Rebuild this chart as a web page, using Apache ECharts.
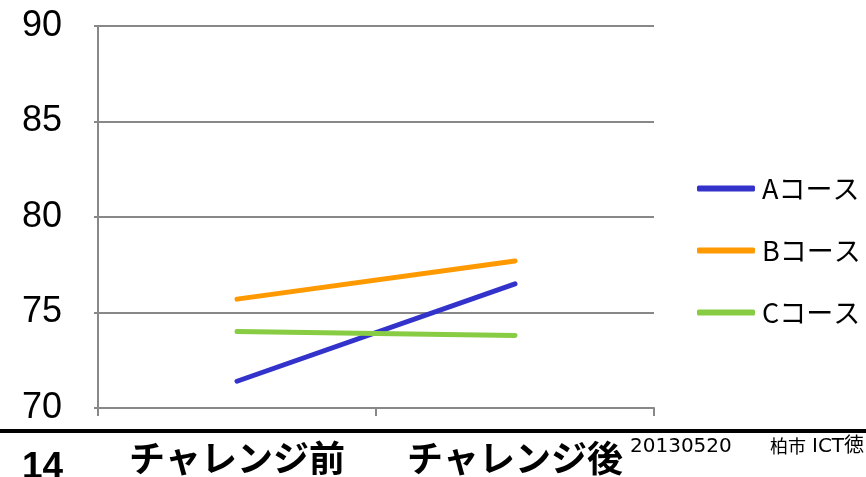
<!DOCTYPE html>
<html><head><meta charset="utf-8">
<script src="https://cdn.jsdelivr.net/npm/echarts@6/dist/echarts.min.js"></script>
<style>html,body{margin:0;padding:0;background:#fff}#c{width:866px;height:477px}</style>
</head><body><div id="c"></div>
<script>
const categories = ['チャレンジ前', 'チャレンジ後'];
const seriesNames = ['Aコース', 'Bコース', 'Cコース'];
const seriesA = [71.4, 76.5];
const seriesB = [75.7, 77.7];
const seriesC = [74.0, 73.8];
const yTicks = [70, 75, 80, 85, 90];
const colors = ['#3333CC', '#FF9900', '#88CC44'];
const values = [seriesA, seriesB, seriesC];

const chart = echarts.init(document.getElementById('c'), null, {renderer: 'canvas'});
chart.setOption({
  animation: false,
  backgroundColor: '#fff',
  grid: {left: 98, right: 212, top: 26, bottom: 69, containLabel: false},
  legend: {
    orient: 'vertical', left: 697, top: 175, padding: 0, itemGap: 35, itemWidth: 58, itemHeight: 6,
    icon: 'roundRect',
    textStyle: {fontFamily: 'Noto Sans CJK JP', fontSize: 27, color: '#000', padding: [0,0,0,2]},
    data: seriesNames
  },
  xAxis: {
    type: 'category', data: categories, boundaryGap: true,
    axisLine: {lineStyle: {color: '#888', width: 2}},
    axisTick: {show: true, length: 8, lineStyle: {color: '#888', width: 2}},
    axisLabel: {interval: 0, hideOverlap: false, margin: 32, fontFamily: 'Noto Sans CJK JP', fontWeight: 'bold', fontSize: 36, color: '#000'}
  },
  yAxis: {
    type: 'value', min: yTicks[0], max: yTicks[yTicks.length-1], interval: 5,
    axisLine: {show: true, lineStyle: {color: '#888', width: 2}},
    axisTick: {show: true, length: 4, lineStyle: {color: '#888', width: 2}},
    splitLine: {lineStyle: {color: '#888', width: 2}},
    axisLabel: {margin: 36, fontFamily: 'Liberation Sans', fontSize: 36, color: '#000'}
  },
  series: seriesNames.map((n, i) => ({
    name: n, type: 'line', data: values[i], symbol: 'none',
    lineStyle: {color: colors[i], width: 5, cap: 'round'},
    itemStyle: {color: colors[i]}
  })),
  graphic: [
    {type: 'rect', shape: {x: 0, y: 429, width: 866, height: 4}, style: {fill: '#000'}},
    {type: 'text', left: 22, top: 449, style: {text: '14', font: 'bold 37px "Liberation Sans"', fill: '#000'}},
    {type: 'text', left: 630, top: 437, style: {text: '20130520', font: '20px "DejaVu Sans"', fill: '#000'}},
    {type: 'text', left: 770, top: 437, style: {text: '柏市', font: '18px "Noto Sans CJK JP"', fill: '#000'}},
    {type: 'text', left: 812, top: 437, style: {text: 'ICT徳', font: '20px "DejaVu Sans", "Noto Sans CJK JP"', fill: '#000'}}
  ]
});
</script></body></html>
